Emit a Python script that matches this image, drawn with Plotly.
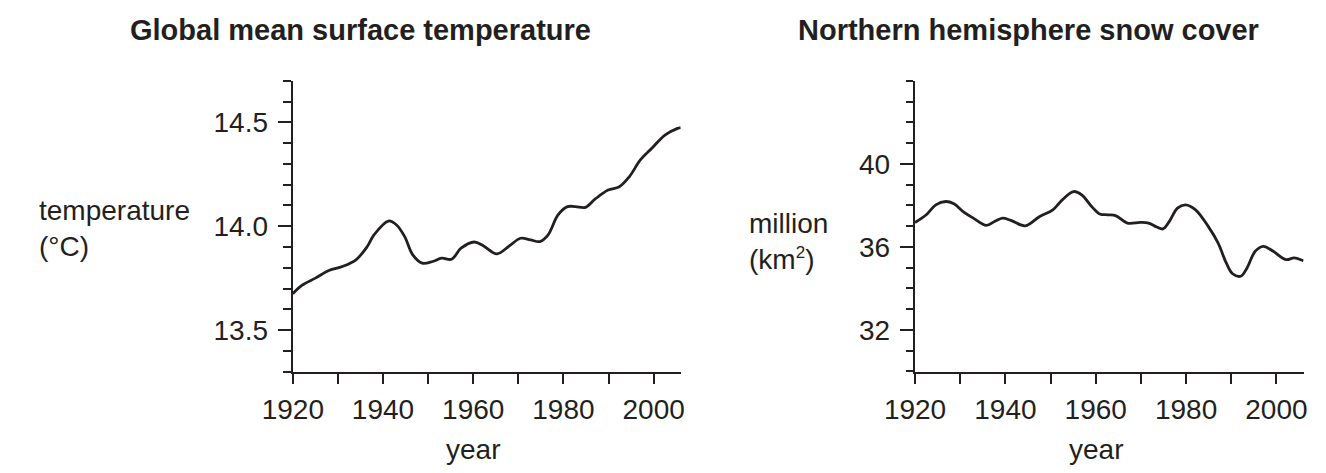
import plotly.graph_objects as go

# ---- data ----
temp_years = [1920, 1922, 1925, 1928, 1931, 1934, 1936.5, 1938, 1941.2, 1943, 1944.8,
              1946.6, 1948.7, 1951, 1953, 1955.2, 1957.3, 1960.2, 1962.3, 1965.2, 1968,
              1970.5, 1972.7, 1974.8, 1976.6, 1978.8, 1980.9, 1982.7, 1984.9, 1987,
              1989.9, 1992.4, 1994.6, 1997.1, 1999.6, 2002.5, 2005.3, 2006]
temp_values = [13.675, 13.715, 13.75, 13.787, 13.806, 13.838, 13.902, 13.958, 14.025, 14.006,
               13.95, 13.862, 13.822, 13.83, 13.846, 13.841, 13.894, 13.924, 13.905, 13.867,
               13.905, 13.942, 13.934, 13.926, 13.958, 14.054, 14.094, 14.094, 14.091, 14.13,
               14.174, 14.19, 14.238, 14.32, 14.375, 14.439, 14.471, 14.475]

snow_years = [1920, 1922.5, 1924.6, 1926.8, 1928.6, 1930.8, 1932.9, 1935.8, 1937.6, 1939.4,
              1941.2, 1944.4, 1947.6, 1950.5, 1952.6, 1955.1, 1956.9, 1959.1, 1960.9, 1962.7,
              1964.5, 1967, 1969.9, 1971.7, 1973.5, 1974.9, 1976.3, 1978.1, 1979.9, 1982.1,
              1984.9, 1987.1, 1988.9, 1990.3, 1992.1, 1993.5, 1995.3, 1997.1, 1999.3, 2002.1,
              2003.9, 2005.7, 2006]
snow_values = [37.18, 37.55, 38.03, 38.19, 38.08, 37.68, 37.39, 37.04, 37.23, 37.39,
               37.28, 37.02, 37.47, 37.79, 38.27, 38.67, 38.51, 37.95, 37.59, 37.55,
               37.50, 37.15, 37.18, 37.15, 36.96, 36.87, 37.23, 37.87, 38.03, 37.79,
               36.99, 36.19, 35.23, 34.71, 34.59, 34.99, 35.79, 36.03, 35.79, 35.39,
               35.47, 35.36, 35.33]

x_tickvals = [1920, 1940, 1960, 1980, 2000]
temp_tickvals = [13.5, 14.0, 14.5]
temp_ticktext = ["13.5", "14.0", "14.5"]
snow_tickvals = [32, 36, 40]
snow_ticktext = ["32", "36", "40"]

titles = ["Global mean surface temperature", "Northern hemisphere snow cover"]
ylabels = ["temperature<br>(°C)",
           "million<br>(km<sup><span style='font-size:17px'>2</span></sup>)"]

INK = "#231f20"
FONT = "Liberation Sans, Arial, sans-serif"
OFF = 8                      # page body margin of the html page
W, H = 1326 - OFF, 473 - OFF

def px_x(p):
    return (p - OFF) / W

def px_y(p):
    return 1 - (p - OFF) / H

fig = go.Figure()
fig.add_trace(go.Scatter(x=temp_years, y=temp_values, mode="lines",
                         line=dict(color=INK, width=2.8, shape="spline", smoothing=1.0),
                         xaxis="x", yaxis="y", showlegend=False, hoverinfo="skip"))
fig.add_trace(go.Scatter(x=snow_years, y=snow_values, mode="lines",
                         line=dict(color=INK, width=2.8, shape="spline", smoothing=1.0),
                         xaxis="x2", yaxis="y2", showlegend=False, hoverinfo="skip"))

ydom = [px_y(371.7), px_y(80.7)]

xaxis_common = dict(
    range=[1919.95, 2006], showline=True, linewidth=2, linecolor=INK,
    showgrid=False, zeroline=False, ticks="outside", ticklen=10, tickwidth=2,
    tickcolor=INK, tickvals=x_tickvals, ticktext=[str(v) for v in x_tickvals],
    tickfont=dict(family=FONT, size=28, color=INK), ticklabelstandoff=2,
    minor=dict(tick0=1920, dtick=10, ticks="outside", ticklen=10, tickwidth=2, tickcolor=INK),
    fixedrange=True,
)
yaxis_common = dict(
    showline=True, linewidth=2, linecolor=INK, showgrid=False, zeroline=False,
    ticks="outside", ticklen=13, tickwidth=2, tickcolor=INK, ticklabelstandoff=4,
    tickfont=dict(family=FONT, size=28, color=INK), fixedrange=True,
)

fig.update_layout(
    width=W, height=H,
    margin=dict(l=0, r=0, t=0, b=0),
    paper_bgcolor="white", plot_bgcolor="white",
    xaxis=dict(domain=[px_x(268.3), px_x(666.7)], anchor="y", **xaxis_common),
    xaxis2=dict(domain=[px_x(907), px_x(1306)], anchor="y2", **xaxis_common),
    yaxis=dict(domain=ydom, anchor="x", range=[13.2995, 14.7005],
               tickvals=temp_tickvals, ticktext=temp_ticktext,
               minor=dict(tick0=13.3, dtick=0.1, ticks="outside", ticklen=8, tickwidth=2, tickcolor=INK),
               **yaxis_common),
    yaxis2=dict(domain=ydom, anchor="x2", range=[29.99, 44.01],
                tickvals=snow_tickvals, ticktext=snow_ticktext,
                minor=dict(tick0=30, dtick=1, ticks="outside", ticklen=7, tickwidth=2, tickcolor=INK),
                **yaxis_common),
)

annotations = [
    dict(text="<b>" + titles[0] + "</b>", x=px_x(338.5), y=px_y(30), xref="paper", yref="paper",
         xanchor="center", yanchor="middle", showarrow=False,
         font=dict(family=FONT, size=29, color=INK)),
    dict(text="<b>" + titles[1] + "</b>", x=px_x(1024), y=px_y(30), xref="paper", yref="paper",
         xanchor="center", yanchor="middle", showarrow=False,
         font=dict(family=FONT, size=29, color=INK)),
    dict(text=ylabels[0], x=px_x(6), y=px_y(228), xref="paper", yref="paper",
         xanchor="left", yanchor="middle", align="left", showarrow=False,
         font=dict(family=FONT, size=28, color=INK)),
    dict(text=ylabels[1], x=px_x(735), y=px_y(242), xref="paper", yref="paper",
         xanchor="left", yanchor="middle", align="left", showarrow=False,
         font=dict(family=FONT, size=28, color=INK)),
    dict(text="year", x=1960, y=px_y(449), xref="x", yref="paper",
         xanchor="center", yanchor="middle", showarrow=False,
         font=dict(family=FONT, size=28, color=INK)),
    dict(text="year", x=1960, y=px_y(449), xref="x2", yref="paper",
         xanchor="center", yanchor="middle", showarrow=False,
         font=dict(family=FONT, size=28, color=INK)),
]
fig.update_layout(annotations=annotations)

fig.write_html("out.html")
